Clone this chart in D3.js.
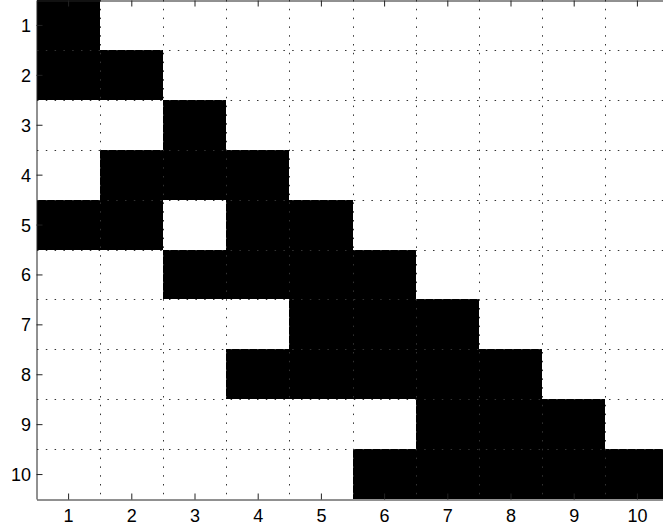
<!DOCTYPE html>
<html>
<head>
<meta charset="utf-8">
<script src="https://cdn.jsdelivr.net/npm/d3@7"></script>
<style>
html,body{margin:0;padding:0;background:#fff;overflow:hidden;}
svg{display:block;}
.tick text{font-family:"Liberation Sans",Arial,Helvetica,sans-serif;font-size:18px;fill:#000;}
</style>
</head>
<body>
<svg id="chart" width="663" height="529"></svg>
<script>
// Data: 10x10 binary matrix (1 = black cell)
const rowLabels = [1,2,3,4,5,6,7,8,9,10];
const colLabels = [1,2,3,4,5,6,7,8,9,10];
const row1  = [1,0,0,0,0,0,0,0,0,0];
const row2  = [1,1,0,0,0,0,0,0,0,0];
const row3  = [0,0,1,0,0,0,0,0,0,0];
const row4  = [0,1,1,1,0,0,0,0,0,0];
const row5  = [1,1,0,1,1,0,0,0,0,0];
const row6  = [0,0,1,1,1,1,0,0,0,0];
const row7  = [0,0,0,0,1,1,1,0,0,0];
const row8  = [0,0,0,1,1,1,1,1,0,0];
const row9  = [0,0,0,0,0,0,1,1,1,0];
const row10 = [0,0,0,0,0,1,1,1,1,1];
const matrix = [row1,row2,row3,row4,row5,row6,row7,row8,row9,row10];

const svg = d3.select("#chart");
const x = d3.scaleLinear().domain([0.5, 10.5]).range([36.5, 668.5]);
const y = d3.scaleLinear().domain([0.5, 10.5]).range([0, 499]);

// cells
const cells = [];
matrix.forEach((r, i) => r.forEach((v, j) => { if (v) cells.push({r: rowLabels[i], c: colLabels[j]}); }));
svg.append("g").selectAll("rect").data(cells).join("rect")
  .attr("x", d => x(d.c - 0.5))
  .attr("y", d => y(d.r - 0.5))
  .attr("width", d => x(d.c + 0.5) - x(d.c - 0.5))
  .attr("height", d => y(d.r + 0.5) - y(d.r - 0.5))
  .attr("fill", "#000")
  .attr("shape-rendering", "crispEdges");

// dotted grid at cell boundaries
const bounds = d3.range(1.5, 10.5, 1);
const grid = svg.append("g").attr("stroke", "#333").attr("stroke-width", 1)
  .attr("stroke-dasharray", "1.5,7.3");
grid.selectAll("line.v").data(bounds).join("line").attr("class","v")
  .attr("x1", d => Math.round(x(d)) + 0.5).attr("x2", d => Math.round(x(d)) + 0.5)
  .attr("y1", 0).attr("y2", 499);
grid.selectAll("line.h").data(bounds).join("line").attr("class","h")
  .attr("y1", d => Math.round(y(d)) + 0.5).attr("y2", d => Math.round(y(d)) + 0.5)
  .attr("x1", 37).attr("x2", 663);

// axes
const axisColor = "#222";
const leftAxis = svg.append("g").attr("transform", "translate(36.5,0)")
  .call(d3.axisLeft(y).tickValues(rowLabels).tickSize(-6).tickPadding(6).tickSizeOuter(0));
const bottomAxis = svg.append("g").attr("transform", "translate(0,499.5)")
  .call(d3.axisBottom(x).tickValues(colLabels).tickSize(-6).tickPadding(10).tickSizeOuter(0));
const topAxis = svg.append("g").attr("transform", "translate(0,0.5)")
  .call(d3.axisTop(x).tickValues(colLabels).tickSize(-6).tickSizeOuter(0));
topAxis.selectAll("text").remove();
[leftAxis, bottomAxis, topAxis].forEach(g => {
  g.selectAll("path.domain").attr("stroke", axisColor).attr("stroke-width", 1);
  g.selectAll(".tick line").attr("stroke", axisColor).attr("stroke-width", 1);
});
leftAxis.selectAll(".tick text").attr("x", -5.5).attr("dy", "0.36em");
bottomAxis.selectAll(".tick text").attr("dy", "0.72em");
</script>
</body>
</html>
